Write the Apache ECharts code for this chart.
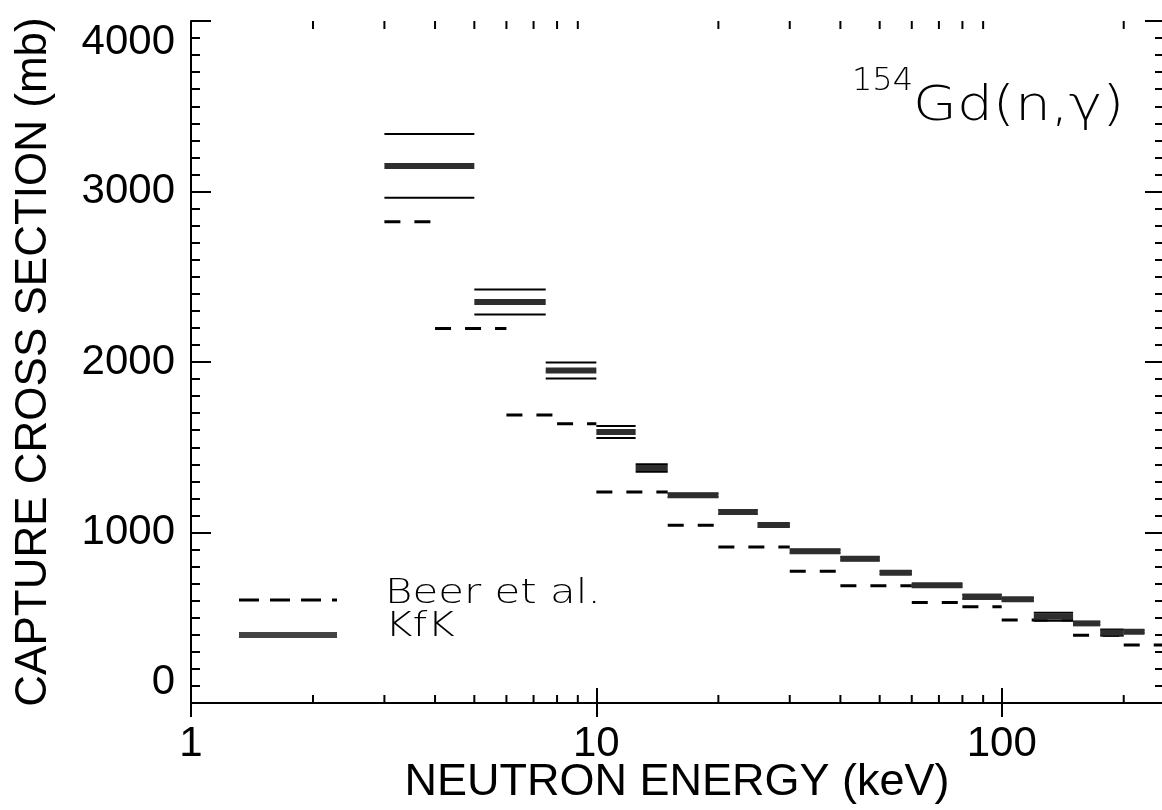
<!DOCTYPE html>
<html>
<head>
<meta charset="utf-8">
<script src="https://cdn.jsdelivr.net/npm/echarts@6/dist/echarts.min.js"></script>
<style>
  html, body { margin: 0; padding: 0; background: #fff; }
  #chart { width: 1162px; height: 810px; }
</style>
</head>
<body>
<div id="chart"></div>
<script>
// KfK: energy bin edges (keV), capture cross sections and uncertainties (mb)
const kfkEdges = [3, 5, 7.5, 10, 12.5, 15, 20, 25, 30, 40, 50, 60, 80, 100, 120, 150, 175, 200, 225];
const kfkValues = [3150, 2352, 1950, 1589, 1378, 1218, 1120, 1044, 890, 846, 764, 690, 623, 608, 506, 467, 413, 418];
const kfkErrors = [187, 73, 47, 35, 22, 10, 10, 9, 9, 9, 8, 8, 12, 8, 23, 8, 18, 8];

// Beer et al.: energy bin edges (keV) and capture cross sections (mb)
const beerEdges = [3, 4, 6, 8, 10, 15, 20, 30, 40, 60, 80, 100, 150, 200, 250];
const beerValues = [2823, 2197, 1689, 1638, 1237, 1042, 915, 772, 688, 590, 565, 487, 397, 340];

// axis ranges and tick positions
const energyRange = [1, 250];
const energyLabels = [1, 10, 100];
const energyMinorTicks = [2, 3, 4, 5, 6, 7, 8, 9, 20, 30, 40, 50, 60, 70, 80, 90, 200];
const sigmaRange = [0, 4000];
const sigmaStep = 1000;

const kfkData = kfkValues.map((v, i) => [kfkEdges[i], kfkEdges[i + 1], v, kfkErrors[i]]);
const beerData = beerValues.map((v, i) => [beerEdges[i], beerEdges[i + 1], v]);

const AXIS_FONT = '"Liberation Sans", Arial, Helvetica, sans-serif';
const PLOT_FONT = '"DejaVu Sans", sans-serif';

function renderKfk(params, api) {
  const x1 = api.value(0), x2 = api.value(1), v = api.value(2), e = api.value(3);
  const a = api.coord([x1, v]);
  const b = api.coord([x2, v]);
  const up = api.coord([x1, v + e])[1];
  const dn = api.coord([x1, v - e])[1];
  return {
    type: 'group',
    children: [
      { type: 'line', shape: { x1: a[0], y1: up, x2: b[0], y2: up }, style: { stroke: '#000', lineWidth: 2 } },
      { type: 'line', shape: { x1: a[0], y1: dn, x2: b[0], y2: dn }, style: { stroke: '#000', lineWidth: 2 } },
      { type: 'line', shape: { x1: a[0], y1: a[1], x2: b[0], y2: b[1] }, style: { stroke: '#2e2e2e', lineWidth: 6 } }
    ]
  };
}

function renderBeer(params, api) {
  const a = api.coord([api.value(0), api.value(2)]);
  const b = api.coord([api.value(1), api.value(2)]);
  return {
    type: 'line',
    shape: { x1: a[0], y1: a[1], x2: b[0], y2: b[1] },
    style: { stroke: '#000', lineWidth: 3, lineDash: [16, 14] }
  };
}

// logarithmic minor ticks on the bottom and top energy axes
function renderMinorTicks(params, api) {
  const cs = params.coordSys;
  const x = api.coord([api.value(0), sigmaRange[0]])[0];
  const yb = cs.y + cs.height, yt = cs.y;
  return {
    type: 'group',
    children: [
      { type: 'line', shape: { x1: x, y1: yb, x2: x, y2: yb - 8 }, style: { stroke: '#000', lineWidth: 2 } },
      { type: 'line', shape: { x1: x, y1: yt, x2: x, y2: yt + 8 }, style: { stroke: '#000', lineWidth: 2 } }
    ]
  };
}

const chart = echarts.init(document.getElementById('chart'), null, { renderer: 'canvas' });

const axisLineStyle = { color: '#000', width: 2 };

chart.setOption({
  animation: false,
  backgroundColor: '#fff',
  grid: { left: 191, top: 21, width: 972, height: 682, containLabel: false, outerBoundsMode: 'none' },
  xAxis: [
    {
      type: 'log', logBase: 10, min: energyRange[0], max: energyRange[1], position: 'bottom',
      axisLine: { show: true, lineStyle: axisLineStyle },
      axisTick: { show: true, inside: true, length: 15, lineStyle: { color: '#000', width: 2 } },
      axisLabel: {
        show: true, margin: 20, color: '#000', fontSize: 42, fontFamily: AXIS_FONT,
        showMaxLabel: false,
        formatter: v => (energyLabels.some(t => Math.abs(t - v) < 1e-6 * t) ? String(Math.round(v)) : '')
      },
      splitLine: { show: false },
      name: 'NEUTRON ENERGY (keV)', nameLocation: 'middle', nameGap: 57, nameMoveOverlap: false,
      nameTextStyle: { color: '#000', fontSize: 45, fontFamily: AXIS_FONT }
    },
    {
      type: 'log', logBase: 10, min: energyRange[0], max: energyRange[1], position: 'top',
      axisLine: { show: true, lineStyle: axisLineStyle },
      axisTick: { show: true, inside: true, length: 14, lineStyle: { color: '#000', width: 2 } },
      axisLabel: { show: false },
      splitLine: { show: false }
    }
  ],
  yAxis: [
    {
      type: 'value', min: sigmaRange[0], max: sigmaRange[1], interval: sigmaStep, position: 'left',
      axisLine: { show: true, lineStyle: axisLineStyle },
      axisTick: { show: true, inside: true, length: 20, lineStyle: { color: '#000', width: 2 } },
      minorTick: { show: true, splitNumber: 10, length: 9, lineStyle: { color: '#000', width: 2 } },
      axisLabel: {
        margin: 16, color: '#000', fontSize: 42, fontFamily: AXIS_FONT,
        verticalAlignMinLabel: 'bottom', verticalAlignMaxLabel: 'top',
        formatter: v => String(v)
      },
      splitLine: { show: false },
      name: 'CAPTURE CROSS SECTION (mb)', nameLocation: 'middle', nameGap: 135, nameMoveOverlap: false,
      nameTextStyle: { color: '#000', fontSize: 44, fontFamily: AXIS_FONT }
    },
    {
      type: 'value', min: sigmaRange[0], max: sigmaRange[1], interval: sigmaStep, position: 'right',
      axisLine: { show: true, lineStyle: axisLineStyle },
      axisTick: { show: true, inside: true, length: 18, lineStyle: { color: '#000', width: 2 } },
      minorTick: { show: true, splitNumber: 10, length: 8, lineStyle: { color: '#000', width: 2 } },
      axisLabel: { show: false },
      splitLine: { show: false }
    }
  ],
  series: [
    {
      name: 'Beer et al.', type: 'custom', renderItem: renderBeer, data: beerData,
      encode: { x: [0, 1], y: 2 }, clip: true, silent: true, z: 2
    },
    {
      name: 'KfK', type: 'custom', renderItem: renderKfk, data: kfkData,
      encode: { x: [0, 1], y: 2 }, clip: true, silent: true, z: 3
    },
    {
      name: 'energy minor ticks', type: 'custom', renderItem: renderMinorTicks,
      data: energyMinorTicks.map(v => [v]), encode: { x: 0 }, silent: true, z: 4
    }
  ],
  graphic: [
    // reaction label
    {
      type: 'text', x: 852, y: 66, silent: true,
      style: { text: '154', font: '300 32px ' + PLOT_FONT, fill: '#000', verticalAlign: 'top' }
    },
    {
      type: 'text', x: 913, y: 84, scaleX: 1.18, silent: true,
      style: { text: 'Gd(n,γ)', font: '300 48px ' + PLOT_FONT, fill: '#000', verticalAlign: 'top' }
    },
    // legend
    {
      type: 'line', silent: true,
      shape: { x1: 239, y1: 600, x2: 337, y2: 600 },
      style: { stroke: '#000', lineWidth: 3, lineDash: [20, 11] }
    },
    {
      type: 'line', silent: true,
      shape: { x1: 239, y1: 635, x2: 337, y2: 635 },
      style: { stroke: '#444', lineWidth: 6 }
    },
    {
      type: 'text', x: 385, y: 594, scaleX: 1.27, silent: true,
      style: { text: 'Beer et al.', font: '300 33px ' + PLOT_FONT, fill: '#000', verticalAlign: 'middle' }
    },
    {
      type: 'text', x: 385, y: 627, scaleX: 1.27, silent: true,
      style: { text: 'KfK', font: '300 33px ' + PLOT_FONT, fill: '#000', verticalAlign: 'middle' }
    }
  ]
});
</script>
</body>
</html>
